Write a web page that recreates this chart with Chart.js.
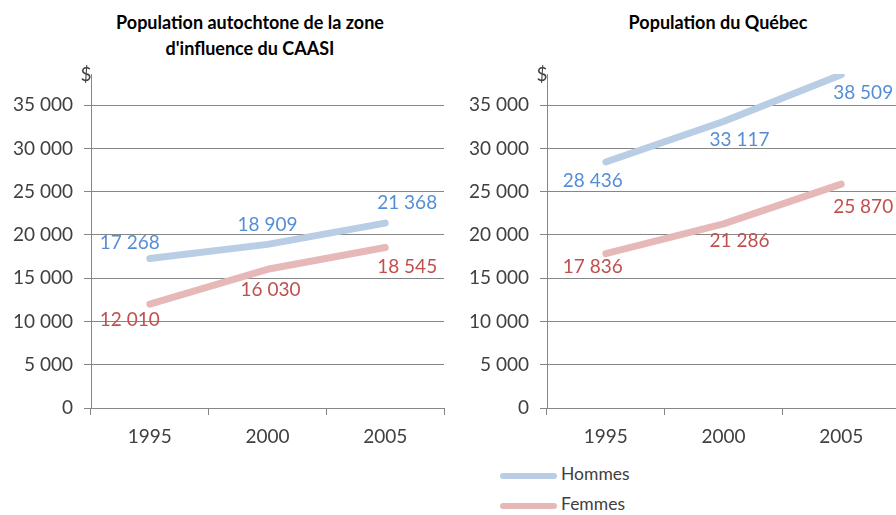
<!DOCTYPE html>
<html>
<head>
<meta charset="utf-8">
<script src="https://cdn.jsdelivr.net/npm/chart.js@4"></script>
<style>
  html, body { margin: 0; padding: 0; background: #fff; }
  body { width: 896px; height: 515px; overflow: hidden; position: relative; font-family: Lato, sans-serif; }
  .box { position: absolute; top: 0; width: 460px; height: 450px; }
  .ttl { position: absolute; font-weight: bold; font-size: 18px; color: #000; text-align: center; line-height: 26px; }
  .leg { position: absolute; left: 500px; font-size: 17.5px; color: #404040; }
  .leg span.sw { display: inline-block; width: 57px; height: 6px; border-radius: 3px; vertical-align: middle; margin-right: 4px; }
</style>
</head>
<body>
<div class="ttl" style="left:40px;top:9px;width:420px;">Population autochtone de la zone<br>d'influence du CAASI</div>
<div class="ttl" style="left:518px;top:9px;width:400px;">Population du Québec</div>
<div class="box" style="left:0px;"><canvas id="gauche"></canvas></div>
<div class="box" style="left:456px;"><canvas id="droite"></canvas></div>
<div class="leg" style="top:463px;"><span class="sw" style="background:#b9cde5"></span>Hommes</div>
<div class="leg" style="top:493px;"><span class="sw" style="background:#e6b9b8"></span>Femmes</div>
<script>
var annees = ["1995", "2000", "2005"];
var hommesCaasi = [17268, 18909, 21368];
var femmesCaasi = [12010, 16030, 18545];
var hommesQuebec = [28436, 33117, 38509];
var femmesQuebec = [17836, 21286, 25870];
var graduations = [0, 5000, 10000, 15000, 20000, 25000, 30000, 35000];

function fmt(v) {
  return String(v).replace(/\B(?=(\d{3})+(?!\d))/g, " ");
}

// label offsets in pixels, per dataset / point
var offsGauche = [[[-20, -16], [0, -20], [22, -20]], [[-20, 16], [3, 21], [22, 19]]];
var offsDroite = [[[-13, 19], [16, 18], [22, 18]], [[-13, 13], [16, 17], [22, 23]]];

var labelPlugin = {
  id: "etiquettes",
  afterDatasetsDraw: function (chart, args, opts) {
    var ctx = chart.ctx;
    ctx.save();
    ctx.font = "19px Lato";
    ctx.textAlign = "center";
    ctx.textBaseline = "middle";
    chart.data.datasets.forEach(function (ds, i) {
      var meta = chart.getDatasetMeta(i);
      ctx.fillStyle = ds.labelColor;
      meta.data.forEach(function (pt, j) {
        var o = opts.offs[i][j];
        ctx.fillText(fmt(ds.data[j]), pt.x + o[0], pt.y + o[1]);
      });
    });
    ctx.fillStyle = "#404040";
    ctx.fillText("$", chart.chartArea.left - 5, chart.chartArea.top + 1);
    ctx.restore();
  }
};

function makeChart(id, hommes, femmes, offs) {
  return new Chart(document.getElementById(id), {
    type: "line",
    data: {
      labels: annees,
      datasets: [{
        label: "Hommes",
        data: hommes,
        borderColor: "#b9cde5",
        labelColor: "#558ed5",
        borderWidth: 7,
        borderCapStyle: "round",
        borderJoinStyle: "round",
        pointRadius: 0,
        tension: 0
      }, {
        label: "Femmes",
        data: femmes,
        borderColor: "#e6b9b8",
        labelColor: "#c0504d",
        borderWidth: 7,
        borderCapStyle: "round",
        borderJoinStyle: "round",
        pointRadius: 0,
        tension: 0
      }]
    },
    options: {
      responsive: false,
      animation: false,
      layout: { padding: { top: 74, right: 16, bottom: 0, left: 0 } },
      plugins: {
        legend: { display: false },
        tooltip: { enabled: false },
        etiquettes: { offs: offs }
      },
      scales: {
        x: {
          offset: true,
          grid: { offset: true, drawOnChartArea: false, drawTicks: true, tickLength: 7, color: "#868686" },
          border: { color: "#868686" },
          ticks: { color: "#404040", font: { family: "Lato", size: 19 }, padding: 10 },
          afterFit: function (s) { s.height = 42; }
        },
        y: {
          min: 0,
          max: 38600,
          ticks: {
            color: "#404040",
            font: { family: "Lato", size: 19 },
            padding: 11,
            callback: function (v) { return fmt(v); }
          },
          afterBuildTicks: function (s) {
            s.ticks = graduations.map(function (v) { return { value: v }; });
          },
          grid: { color: "#868686", tickLength: 7 },
          border: { color: "#868686" },
          afterFit: function (s) { s.width = 91; }
        }
      }
    },
    plugins: [labelPlugin]
  });
}

var c1 = document.getElementById("gauche");
c1.width = 460; c1.height = 450;
var c2 = document.getElementById("droite");
c2.width = 460; c2.height = 450;
makeChart("gauche", hommesCaasi, femmesCaasi, offsGauche);
makeChart("droite", hommesQuebec, femmesQuebec, offsDroite);
</script>
</body>
</html>
